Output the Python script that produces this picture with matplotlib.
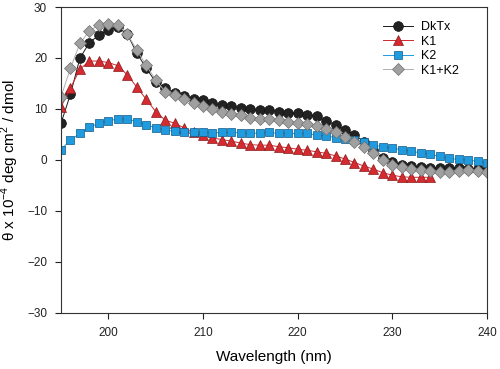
import numpy as np
import matplotlib.pyplot as plt

plt.rcParams['font.family'] = ['Liberation Sans', 'DejaVu Sans']

# wavelengths, 1 nm steps
wl = np.arange(195, 241)

dktx = [7.2, 12.9, 20.0, 23.0, 24.5, 25.5, 26.0, 24.7, 21.0, 18.0,
        15.3, 14.2, 13.2, 12.6, 12.0, 11.7, 11.1, 10.8, 10.5, 10.1,
        9.9, 9.8, 9.8, 9.5, 9.3, 9.2, 8.9, 8.6, 7.6, 6.9,
        5.9, 4.9, 3.6, 1.9, 0.3, -0.4, -0.9, -1.2, -1.4, -1.5,
        -1.6, -1.6, -1.6, -1.7, -1.8, -2.0]
k1 = [10.4, 14.1, 17.8, 19.4, 19.4, 19.1, 18.5, 16.7, 14.3, 11.9,
      9.5, 7.8, 7.2, 6.3, 5.5, 4.8, 4.3, 4.0, 3.7, 3.3,
      3.0, 2.9, 2.9, 2.6, 2.4, 2.1, 1.9, 1.6, 1.3, 0.8,
      0.2, -0.5, -1.2, -1.8, -2.5, -3.0, -3.3, -3.4, -3.4, -3.4]
k2 = [2.0, 3.9, 5.2, 6.4, 7.2, 7.7, 8.0, 8.0, 7.5, 6.9,
      6.3, 5.9, 5.6, 5.5, 5.5, 5.4, 5.3, 5.4, 5.4, 5.3,
      5.2, 5.3, 5.4, 5.2, 5.2, 5.2, 5.2, 4.9, 4.7, 4.4,
      4.2, 3.9, 3.6, 2.9, 2.6, 2.3, 2.0, 1.7, 1.4, 1.1,
      0.7, 0.3, 0.1, 0.0, -0.3, -0.6]
k1k2 = [12.4, 18.0, 22.9, 25.3, 26.5, 26.7, 26.5, 24.7, 21.6, 18.6,
        15.7, 13.4, 12.7, 11.9, 11.1, 10.5, 9.9, 9.5, 9.1, 8.8,
        8.3, 8.0, 8.0, 7.8, 7.5, 7.3, 7.1, 6.7, 6.1, 5.4,
        4.6, 3.6, 2.6, 1.4, 0.0, -1.0, -1.4, -1.8, -2.0, -2.2,
        -2.4, -2.4, -2.2, -2.0, -2.2, -2.4]

fig = plt.figure(figsize=(5, 3.69), dpi=100)
ax = fig.add_axes([0.122, 0.152, 0.852, 0.829])

ax.plot(wl, dktx, '-o', color='#1a1a1a', lw=0.7, ms=7,
        mfc='#222222', mec='#111111', mew=0.5, label='DkTx')
ax.plot(wl[:len(k1)], k1, '-^', color='#d0282e', lw=0.7, ms=7,
        mfc='#d42a30', mec='#8a1a1a', mew=0.5, label='K1')
ax.plot(wl, k2, '-s', color='#1f9ae0', lw=0.7, ms=6,
        mfc='#1f9be0', mec='#105a88', mew=0.5, label='K2')
ax.plot(wl, k1k2, '-D', color='#b0b0b0', lw=0.7, ms=6.5,
        mfc='#a0a0a0', mec='#707070', mew=0.5, label='K1+K2')

ax.set_xlim(195, 240)
ax.set_ylim(-30, 30)
ax.set_xticks([200, 210, 220, 230, 240])
ax.set_yticks([-30, -20, -10, 0, 10, 20, 30])
ax.tick_params(direction='out', length=4, width=0.8, labelsize=8.5,
               colors='#222222', pad=6)
for s in ax.spines.values():
    s.set_linewidth(0.8)
    s.set_color('#333333')

ax.set_xlabel('Wavelength (nm)', fontsize=11, labelpad=8)
ax.set_ylabel('θ x 10$^{\\mathregular{-4}}$ deg cm$^{\\mathregular{2}}$ / dmol',
              fontsize=11)

ax.legend(loc='upper right', bbox_to_anchor=(0.96, 0.99), frameon=False,
          fontsize=9, handlelength=2.4, labelspacing=0.2, handletextpad=0.6)

fig.savefig('out.png', dpi=100)
